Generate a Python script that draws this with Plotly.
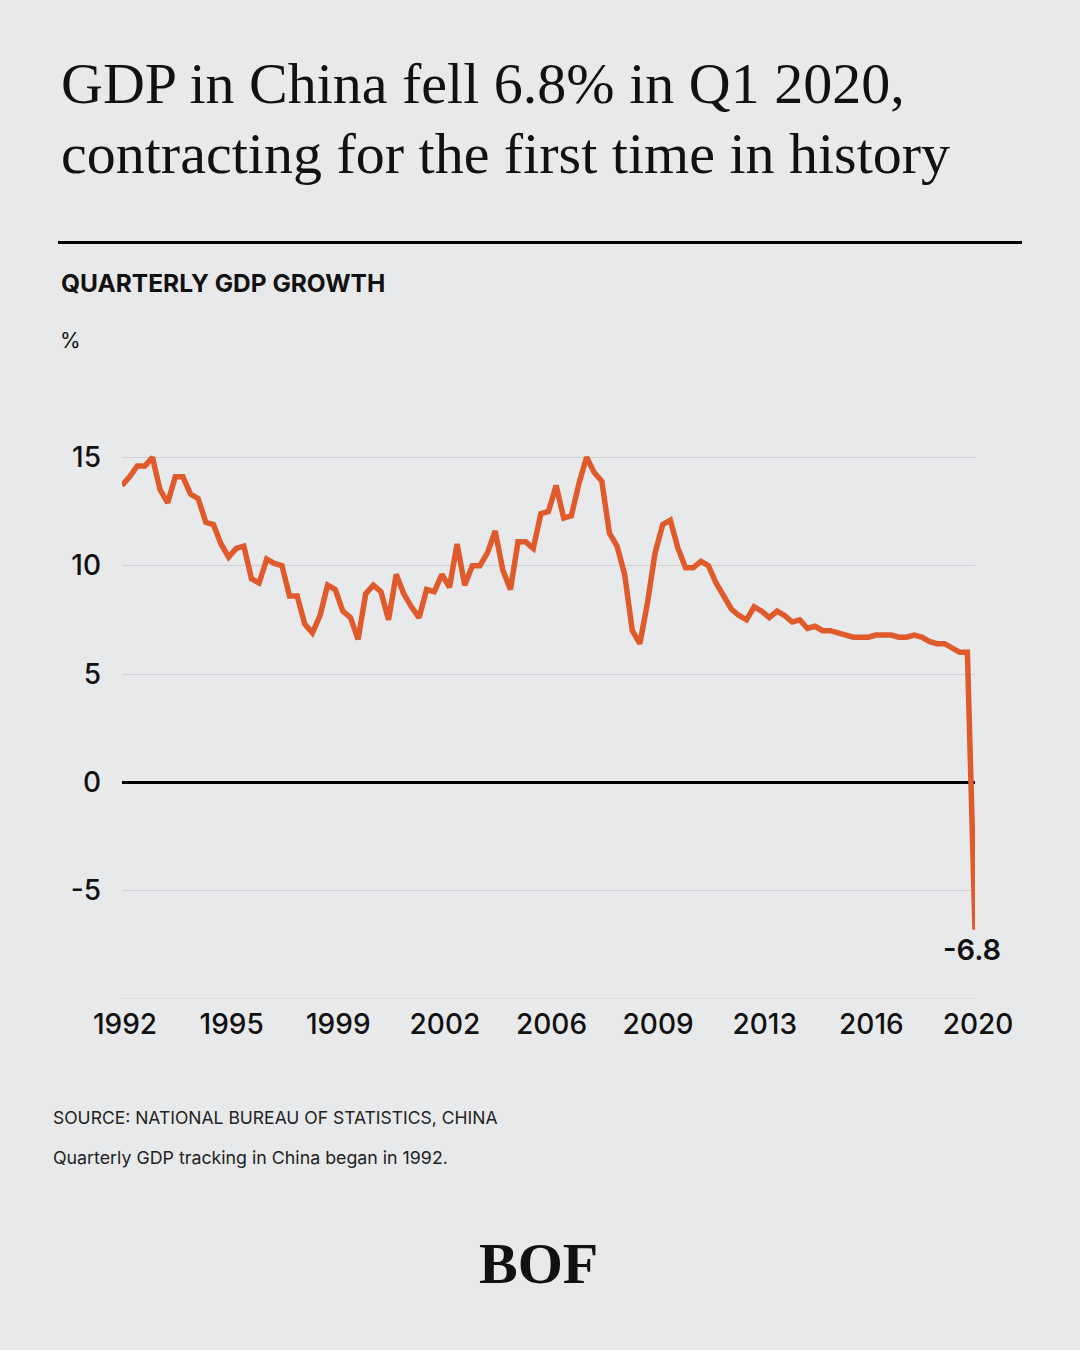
import plotly.graph_objects as go

# Quarterly GDP growth (%), 1992 Q1 .. 2020 Q1
gdp_growth = [
    13.7, 14.1, 14.6, 14.6, 15.0, 13.5, 12.9, 14.1, 14.1, 13.3,
    13.1, 12.0, 11.9, 11.0, 10.4, 10.8, 10.9, 9.4, 9.2, 10.3,
    10.1, 10.0, 8.6, 8.6, 7.3, 6.9, 7.7, 9.1, 8.9, 7.9,
    7.6, 6.6, 8.7, 9.1, 8.8, 7.5, 9.6, 8.7, 8.1, 7.6,
    8.9, 8.8, 9.6, 9.0, 11.0, 9.1, 10.0, 10.0, 10.6, 11.6,
    9.8, 8.9, 11.1, 11.1, 10.8, 12.4, 12.5, 13.7, 12.2, 12.3,
    13.8, 15.0, 14.3, 13.9, 11.5, 10.9, 9.6, 7.0, 6.4, 8.3,
    10.6, 11.9, 12.1, 10.8, 9.9, 9.9, 10.2, 10.0, 9.2, 8.6,
    8.0, 7.7, 7.5, 8.1, 7.9, 7.6, 7.9, 7.7, 7.4, 7.5,
    7.1, 7.2, 7.0, 7.0, 6.9, 6.8, 6.7, 6.7, 6.7, 6.8,
    6.8, 6.8, 6.7, 6.7, 6.8, 6.7, 6.5, 6.4, 6.4, 6.2,
    6.0, 6.0, -6.8,
]
quarter_index = list(range(len(gdp_growth)))

x_tick_positions = [0, 14, 28, 42, 56, 70, 84, 98, 112]
x_tick_labels = ["1992", "1995", "1999", "2002", "2006", "2009", "2013", "2016", "2020"]
y_tick_values = [-10, -5, 0, 5, 10, 15]
y_tick_labels = ["", "-5", "0", "5", "10", "15"]

W, H = 1080, 1350
L, R = 122, 975          # plot area pixel edges
T, B = 413.6, 998.7
BG = "#e8e9eb"
ORANGE = "#e05a2b"
GRID = "#cfd0d3"
SANS = "Inter, Roboto, sans-serif"
SERIF = "Liberation Serif, Times New Roman, serif"


def px(x):
    return (x - L) / (R - L)


def py(y):
    return (B - y) / (B - T)


fig = go.Figure()
fig.add_trace(go.Scatter(
    x=quarter_index, y=gdp_growth, mode="lines",
    line=dict(color=ORANGE, width=5.5), hoverinfo="skip", showlegend=False,
))

fig.update_layout(
    width=W, height=H,
    paper_bgcolor=BG, plot_bgcolor=BG,
    margin=dict(l=L, r=W - R, t=T, b=H - B),
    showlegend=False,
    xaxis=dict(
        range=[0, 112], tickvals=x_tick_positions, ticktext=x_tick_labels,
        showgrid=False, zeroline=False, showline=False, ticks="",
        tickfont=dict(family=SANS, size=28, color="#111111", weight=500),
        ticklabelstandoff=6, ticklabelshift=3,
    ),
    yaxis=dict(
        range=[-10, 17], tickvals=y_tick_values, ticktext=y_tick_labels,
        showgrid=True, gridcolor=GRID, gridwidth=1,
        zeroline=True, zerolinecolor="#000000", zerolinewidth=2.5,
        showline=False, ticks="",
        tickfont=dict(family=SANS, size=28, color="#111111", weight=500),
        ticklabelstandoff=20,
    ),
)

annos = [
    dict(text="GDP in China fell 6.8% in Q1 2020,", x=px(59), y=py(83),
         xanchor="left", yanchor="middle",
         font=dict(family=SERIF, size=58, color="#111111")),
    dict(text="contracting for the first time in history", x=px(59), y=py(153),
         xanchor="left", yanchor="middle",
         font=dict(family=SERIF, size=58, color="#111111")),
    dict(text="<b>QUARTERLY GDP GROWTH</b>", x=px(59), y=py(283),
         xanchor="left", yanchor="middle",
         font=dict(family=SANS, size=24.5, color="#111111")),
    dict(text="%", x=px(58), y=py(340), xanchor="left", yanchor="middle",
         font=dict(family=SANS, size=21, color="#111111")),
    dict(text="SOURCE: NATIONAL BUREAU OF STATISTICS, CHINA", x=px(51), y=py(1117),
         xanchor="left", yanchor="middle",
         font=dict(family=SANS, size=17.5, color="#222222")),
    dict(text="Quarterly GDP tracking in China began in 1992.", x=px(51), y=py(1157),
         xanchor="left", yanchor="middle",
         font=dict(family=SANS, size=17.8, color="#222222")),
    dict(text="<b>BOF</b>", x=px(538), y=py(1263), xanchor="center", yanchor="middle",
         font=dict(family=SERIF, size=58, color="#111111")),
]
for a in annos:
    a.update(xref="paper", yref="paper", showarrow=False)
    fig.add_annotation(**a)

# "-6.8" end label
fig.add_annotation(x=quarter_index[-1], y=gdp_growth[-1], xref="x", yref="y",
                   text=str(gdp_growth[-1]), showarrow=False,
                   xanchor="center", yanchor="top", yshift=0, xshift=-3,
                   font=dict(family=SANS, size=29, color="#111111", weight=600))

# bottom gridline at -10 (plot edge)
fig.add_shape(type="line", xref="paper", yref="y", x0=0, x1=1, y0=-10, y1=-10,
              line=dict(color=GRID, width=1), layer="below")

# horizontal rule under the title
fig.add_shape(type="line", xref="paper", yref="paper",
              x0=px(58), x1=px(1022), y0=py(242), y1=py(242),
              line=dict(color="#000000", width=3))

fig.write_html("out.html", config={"displayModeBar": False},
               post_script="document.body.style.margin='0';")
